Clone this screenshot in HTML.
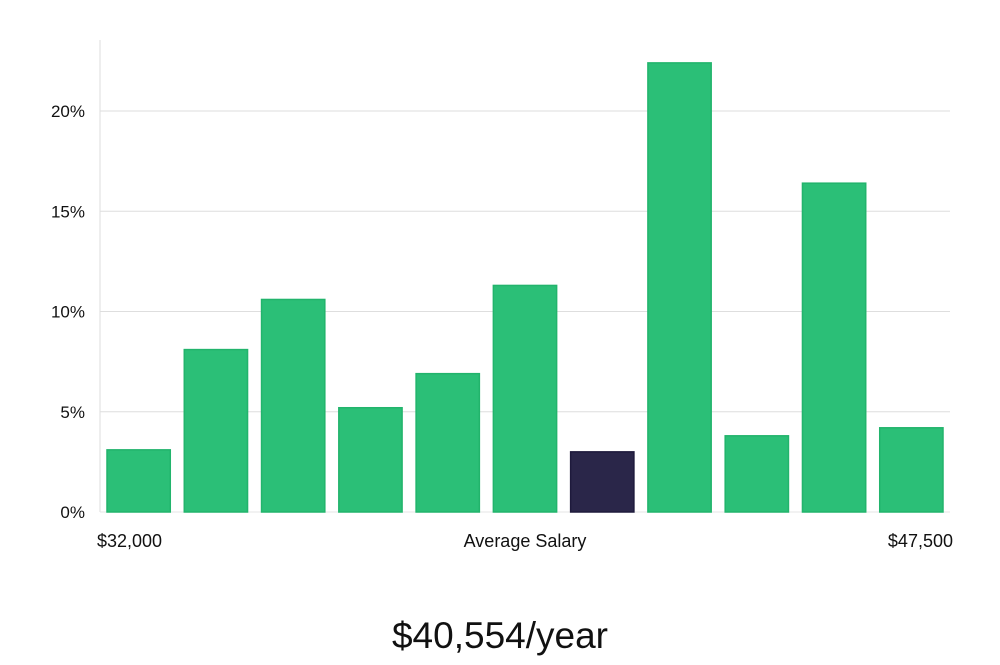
<!DOCTYPE html>
<html><head><meta charset="utf-8"><style>
body{margin:0;background:#fff;width:1000px;height:660px;overflow:hidden;font-family:"Liberation Sans","DejaVu Sans",sans-serif}
</style></head><body>
<svg width="1000" height="660" id="chart" xmlns="http://www.w3.org/2000/svg">
<text x="500" y="648" text-anchor="middle" font-size="37" fill="#111" font-family="Liberation Sans, sans-serif">$40,554/year</text>
</svg>
<script>
const categories=["b1","b2","b3","b4","b5","b6","b7","b8","b9","b10","b11"];
const values=[3.1,8.1,10.6,5.2,6.9,11.3,3.0,22.4,3.8,16.4,4.2];
const highlight=[false,false,false,false,false,false,true,false,false,false,false];
const yTicks=[0,5,10,15,20];
const yTickLabels=["0%","5%","10%","15%","20%"];
const xLabels=["$32,000","Average Salary","$47,500"];
const svg=document.getElementById('chart');
const NS='http://www.w3.org/2000/svg';
const x0=100,x1=950,y0=512,yPer=(512-111)/20;
const y=v=>y0-v*yPer;
const step=(x1-x0)/categories.length;
const bx=i=>x0+i*step;
function mk(t,a){const e=document.createElementNS(NS,t);for(const k in a)e.setAttribute(k,a[k]);svg.appendChild(e);return e;}
yTicks.forEach((t,i)=>{
  if(t>0){const g=mk('line',{x1:x0,x2:x1,y1:y(t),y2:y(t),stroke:'#dedede','stroke-width':1});
  
  }
  const l=mk('text',{x:85,y:y(t)+6,'text-anchor':'end','font-size':17,fill:'#111'});
  l.textContent=yTickLabels[i];
  
  
});
const ax=mk('line',{x1:x0,x2:x0,y1:40,y2:y0,stroke:'#dedede','stroke-width':1});


const bl=mk('line',{x1:x0,x2:x1,y1:y0,y2:y0,stroke:'#e6e6e6','stroke-width':1});


values.forEach((v,i)=>{
  const r=mk('rect',{x:bx(i)+7,y:y(v),width:step-14,height:y0-y(v),fill:highlight[i]?'#2a2649':'#2bbf77',stroke:highlight[i]?'#1e1a3c':'#22b46c','stroke-width':1.5});
  
  
});
const xs=[[97,'start'],[525,'middle'],[953,'end']];
xLabels.forEach((s,i)=>{
  const t=mk('text',{x:xs[i][0],y:547,'text-anchor':xs[i][1],'font-size':18,fill:'#111'});
  t.textContent=s;
  
  
});
</script>
</body></html>
